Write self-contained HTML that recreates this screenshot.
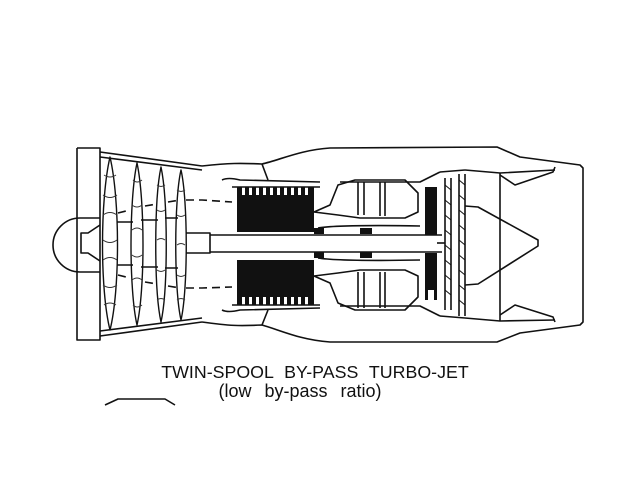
<!DOCTYPE html>
<html><head><style>
html,body{margin:0;padding:0;background:#fff;width:638px;height:479px;overflow:hidden}
svg{position:absolute;left:0;top:0}
</style></head><body>
<svg width="638" height="479" viewBox="0 0 638 479" fill="none" stroke="#111" stroke-width="1.6" stroke-linejoin="round">
<path d="M77,148 H100 V157 M77,148 V340 H100 V331 M100,148 V340"/>
<path d="M100,152 L202,166 M100,336 L202,322"/>
<path d="M100,157 L202,170 M100,331 L202,318"/>
<path d="M202,166 C230,163 240,163 262,164 C280,160 300,150 330,148 L497,147 L520,157 L580,165 L583,168 V322 L580,325 L520,333 L497,342 L330,342 C300,340 280,330 262,325 C240,326 230,326 202,322"/>
<path d="M100,218 H80 A27,27 0 0 0 80,272 H100"/>
<path d="M100,225 L88,233 H81 V253 H88 L100,261"/>
<g stroke-width="1.4">
<path d="M110,157 C120,200 120,290 110,330 C100,290 100,200 110,157Z"/>
<path d="M137,163 C145,200 145,290 137,325 C129,290 129,200 137,163Z"/>
<path d="M161,167 C168,200 168,290 161,322 C154,290 154,200 161,167Z"/>
<path d="M181,170 C188,200 188,290 181,320 C174,290 174,200 181,170Z"/>
</g>
<g stroke-width="1" stroke="#333">
<path d="M104,175 q6,4 12,0 M103,195 q7,5 14,0 M103,215 q7,-5 14,0 M103,240 q7,5 14,0 M103,260 q7,-5 14,0 M103,285 q7,5 14,0 M104,305 q6,-4 12,0"/>
<path d="M133,180 q4,4 9,0 M132,205 q5,4 10,0 M132,230 q5,-4 10,0 M132,255 q5,4 10,0 M132,280 q5,-4 10,0 M133,305 q4,4 9,0"/>
<path d="M157,185 q4,3 8,0 M157,210 q4,3 8,0 M157,240 q4,-3 8,0 M157,270 q4,3 8,0 M157,300 q4,-3 8,0"/>
<path d="M177,190 q4,3 8,0 M177,215 q4,3 8,0 M177,245 q4,-3 8,0 M177,275 q4,3 8,0 M177,300 q4,-3 8,0"/>
</g>
<path d="M117,222 H133 M141,220 H158 M165,218 H178 M117,265 H133 M141,267 H158 M165,268 H178" />
<path d="M118,213 L130,210 M145,206 L157,204 M168,202 L180,200 M186,200 L202,200 L232,202 M118,275 L130,278 M145,282 L157,284 M168,286 L180,288 M186,288 L202,288 L232,287" stroke-dasharray="8,5"/>
<path d="M186,233 H210 V253 H186 M210,235 H442 M210,252 H442"/>
<path d="M232,187 L320,187 M232,305 L320,305"/>
<path d="M262,164 L268,180 M262,325 L268,310"/>
<path d="M222,180 C226,178 232,178 240,180 L320,182 M222,310 C226,312 232,312 240,310 L320,308"/>
<g fill="#111" stroke="none">
<path d="M237,187 H242 V195 H245 V187 H249 V195 H252 V187 H256 V195 H259 V187 H263 V195 H266 V187 H270 V195 H273 V187 H277 V195 H280 V187 H284 V195 H287 V187 H291 V195 H294 V187 H298 V195 H301 V187 H305 V195 H308 V187 H314 V232 H237Z"/>
<path d="M237,260 H314 V305 H308 V297 H305 V305 H301 V297 H298 V305 H294 V297 H291 V305 H287 V297 H284 V305 H280 V297 H277 V305 H273 V297 H270 V305 H266 V297 H263 V305 H259 V297 H256 V305 H252 V297 H249 V305 H245 V297 H242 V305 H237Z"/>
<rect x="314" y="228" width="10" height="6"/><rect x="314" y="252" width="10" height="6"/>
<rect x="360" y="228" width="12" height="6"/><rect x="360" y="252" width="12" height="6"/>
<path d="M425,187 H437 V235 H425Z M425,253 H437 V300 H425Z"/>
<rect x="428" y="290" width="6" height="16" fill="#fff"/>
</g>
<path d="M314,212 L330,205 L338,185 L355,180 H405 L418,193 V212 L405,218 H360 L338,215 Z"/>
<path d="M314,276 L330,283 L338,303 L355,310 H405 L418,297 V276 L405,270 H360 L338,273 Z"/>
<path d="M358,182 V215 M364,182 V215 M380,182 V216 M385,182 V216 M358,272 V308 M364,272 V308 M380,272 V308 M385,272 V308"/>
<path d="M340,182 H420 L440,172 M340,306 H420 L440,316"/>
<path d="M318,228 C330,226 360,225 420,226 M318,258 C330,260 360,261 420,260"/>
<path d="M445,178 V310 M451,178 V310 M459,174 V316 M465,174 V316"/>
<path d="M445,185 L451,190 M445,200 L451,205 M445,215 L451,220 M445,230 L451,235 M445,245 L451,250 M445,260 L451,265 M445,275 L451,280 M445,290 L451,295 M459,180 L465,185 M459,195 L465,200 M459,210 L465,215 M459,225 L465,230 M459,240 L465,245 M459,255 L465,260 M459,270 L465,275 M459,285 L465,290 M459,300 L465,305" stroke-width="1"/>
<path d="M440,172 L465,170 M440,316 L465,318"/>
<path d="M437,243 H445"/>
<path d="M465,206 L478,207 L538,240 V246 L478,284 L465,285"/>
<path d="M500,173 V321"/>
<path d="M465,170 L500,173 L555,170 M465,318 L500,321 L555,320"/>
<path d="M500,175 L515,185 L553,172 L555,167 M500,315 L515,305 L553,317 L555,322"/>
<path d="M105,405 L118,399 H165 L175,405"/>
</svg>
<div style="position:absolute;left:140px;top:362px;width:350px;text-align:center;font:17.8px 'Liberation Sans',sans-serif;color:#111;word-spacing:6px;white-space:nowrap">TWIN-SPOOL BY-PASS TURBO-JET</div>
<div style="position:absolute;left:190px;top:381px;width:220px;text-align:center;font:18px 'Liberation Sans',sans-serif;color:#111;word-spacing:8px;white-space:nowrap">(low by-pass ratio)</div>
</body></html>
